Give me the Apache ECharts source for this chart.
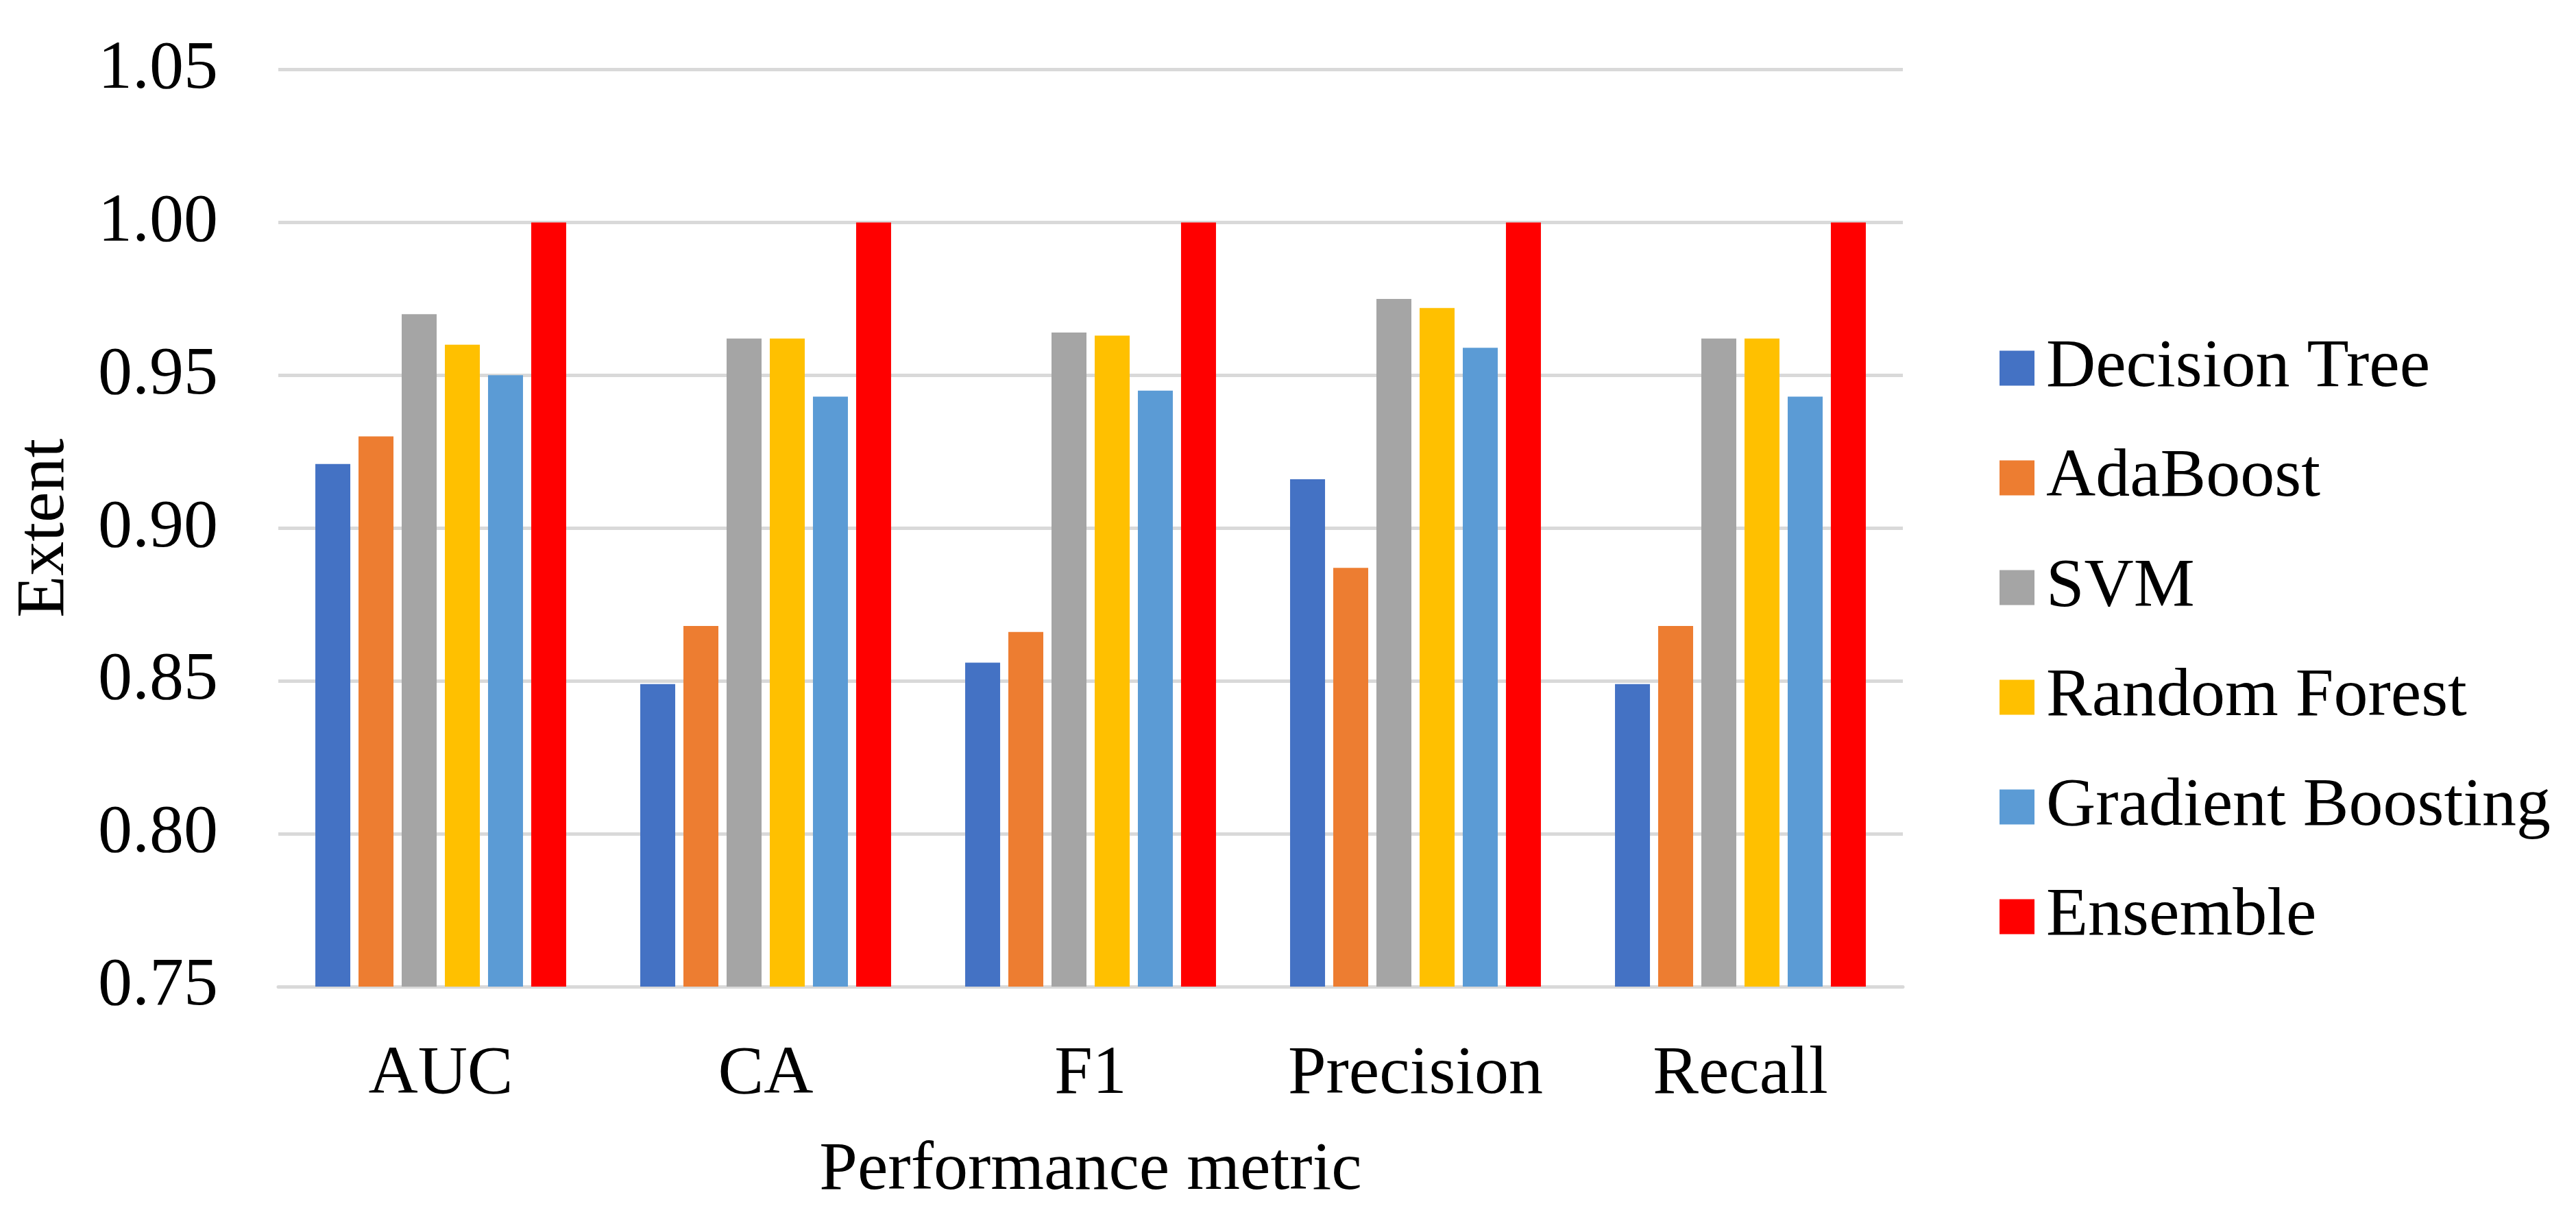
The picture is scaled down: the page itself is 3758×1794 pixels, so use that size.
<!DOCTYPE html>
<html>
<head>
<meta charset="utf-8">
<script src="https://cdn.jsdelivr.net/npm/echarts@6/dist/echarts.min.js"></script>
<style>
html,body{margin:0;padding:0;background:#fff;}
#chart{width:3758px;height:1794px;}
</style>
</head>
<body>
<div id="chart"></div>
<script>
const categories = ['AUC', 'CA', 'F1', 'Precision', 'Recall'];
const seriesNames = ['Decision Tree', 'AdaBoost', 'SVM', 'Random Forest', 'Gradient Boosting', 'Ensemble'];
const decisionTree = [0.921, 0.849, 0.856, 0.916, 0.849];
const adaBoost = [0.930, 0.868, 0.866, 0.887, 0.868];
const svm = [0.970, 0.962, 0.964, 0.975, 0.962];
const randomForest = [0.960, 0.962, 0.963, 0.972, 0.962];
const gradientBoosting = [0.950, 0.943, 0.945, 0.959, 0.943];
const ensemble = [1.000, 1.000, 1.000, 1.000, 1.000];
const colors = ['#4472C4', '#ED7D31', '#A5A5A5', '#FFC000', '#5B9BD5', '#FF0000'];
const yMin = 0.75, yMax = 1.05, yStep = 0.05;

const allValues = [decisionTree, adaBoost, svm, randomForest, gradientBoosting, ensemble];
const FONT = "'Liberation Serif', 'Times New Roman', serif";

const chart = echarts.init(document.getElementById('chart'), null, {renderer: 'canvas'});
chart.setOption({
  backgroundColor: '#ffffff',
  animation: false,
  color: colors,
  textStyle: {fontFamily: FONT, color: '#000'},
  grid: {left: 406, right: 982, top: 101.5, bottom: 355, containLabel: false, outerBoundsMode: 'none'},
  legend: {
    orient: 'vertical',
    left: 2912,
    top: 482,
    itemWidth: 51,
    itemHeight: 51,
    itemGap: 60,
    icon: 'rect',
    textStyle: {fontFamily: FONT, fontSize: 100, color: '#000', padding: [0, 0, 0, 12]},
    data: seriesNames
  },
  xAxis: {
    type: 'category',
    data: categories,
    axisTick: {show: false},
    axisLine: {show: true, lineStyle: {color: '#D9D9D9', width: 5}},
    axisLabel: {fontFamily: FONT, fontSize: 100, color: '#000', margin: 79, interval: 0},
    name: 'Performance metric',
    nameLocation: 'middle',
    nameGap: 219,
    nameTextStyle: {fontFamily: FONT, fontSize: 100, color: '#000'}
  },
  yAxis: {
    type: 'value',
    min: yMin,
    max: yMax,
    interval: yStep,
    axisLine: {show: false},
    axisTick: {show: false},
    splitLine: {show: true, lineStyle: {color: '#D9D9D9', width: 5}},
    axisLabel: {fontFamily: FONT, fontSize: 100, color: '#000', margin: 88,
      formatter: v => v.toFixed(2)},
    name: 'Extent',
    nameLocation: 'middle',
    nameRotate: 90,
    nameGap: 290,
    nameTextStyle: {fontFamily: FONT, fontSize: 100, color: '#000'}
  },
  series: seriesNames.map((name, i) => ({
    name: name,
    type: 'bar',
    data: allValues[i],
    barGap: '23.5%',
    barCategoryGap: '22.8%',
    itemStyle: {color: colors[i]}
  }))
});
</script>
</body>
</html>
